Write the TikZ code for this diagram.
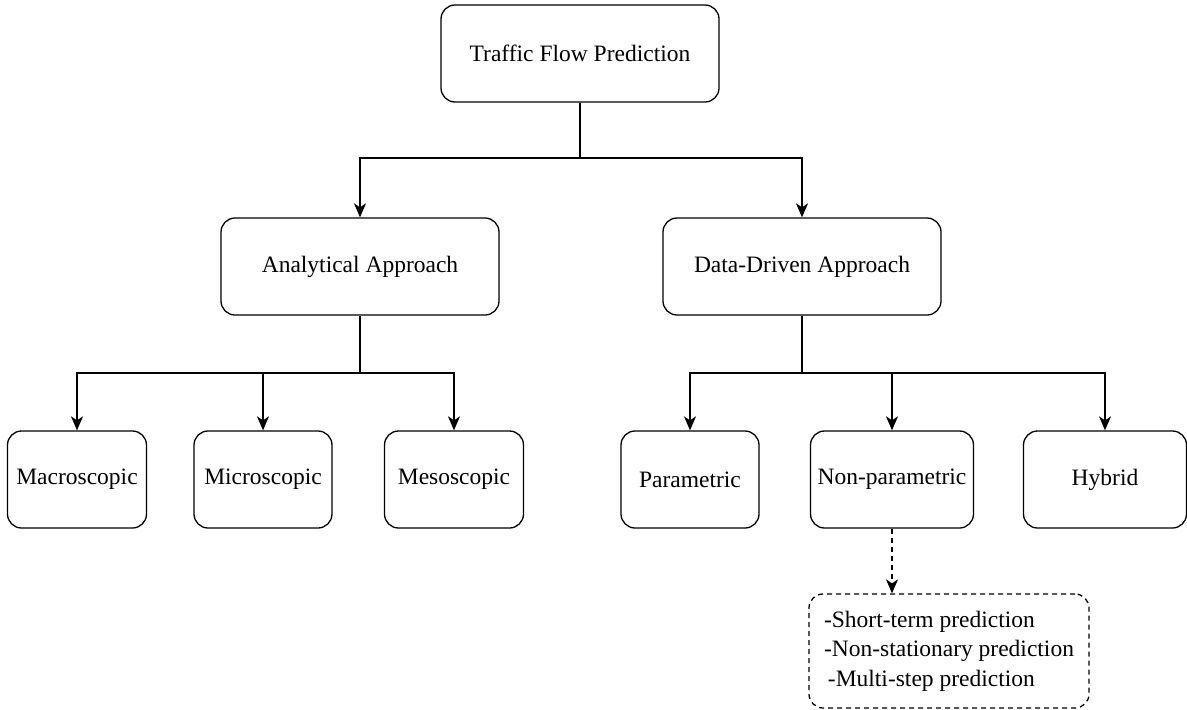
\documentclass[tikz,border=0pt]{standalone}
\usepackage{fontspec}
\setmainfont{Liberation Serif}
\usetikzlibrary{arrows.meta}
\begin{document}
\begin{tikzpicture}[x=1pt,y=-1pt,
  box/.style={draw, line width=1.3pt, rounded corners=14pt, align=center,
    inner sep=0pt, font=\fontsize{23.5}{28}\selectfont},
  link/.style={line width=1.4pt, -{Stealth[length=14pt,width=12pt,inset=4pt]}},
  bare/.style={line width=1.4pt},
  dash5/.style={dash pattern=on 5pt off 4pt}]
\useasboundingbox (0,0) rectangle (1187,710);
% top level
\node[box, minimum width=278pt, minimum height=97pt] (top) at (580,53.5) {Traffic Flow Prediction};
% second level
\node[box, minimum width=278pt, minimum height=97pt] (ana) at (360,266.5) {Analytical Approach};
\node[box, minimum width=278pt, minimum height=97pt] (dat) at (802,266.5) {Data-Driven Approach};
% third level
\node[box, minimum width=139pt, minimum height=97pt] (mac) at (77,479.5) {Macroscopic};
\node[box, minimum width=138pt, minimum height=97pt] (mic) at (263,479.5) {Microscopic};
\node[box, minimum width=139pt, minimum height=97pt] (mes) at (454,479.5) {Mesoscopic};
\node[box, minimum width=138pt, minimum height=97pt] (par) at (690,479.5) {Parametric};
\node[box, minimum width=163pt, minimum height=97pt] (non) at (892,479.5) {Non-parametric};
\node[box, minimum width=163pt, minimum height=97pt] (hyb) at (1105,479.5) {Hybrid};
% prediction horizons
\node[box, dash5, minimum width=280pt, minimum height=114pt, align=left,
  font=\fontsize{23.5}{29.5}\selectfont] (det) at (949,651)
  {-Short-term prediction\\-Non-stationary prediction\\\,-Multi-step prediction};
% junction points
\coordinate (j0) at (580,158);
\coordinate (j1) at (360,373);
\coordinate (j2) at (802,373);
% connectors
\draw[bare] (top.south) -- (j0);
\draw[link] (j0) -| (ana.north);
\draw[link] (j0) -| (dat.north);
\draw[bare] (ana.south) -- (j1);
\draw[link] (j1) -| (mac.north);
\draw[link] (j1) -| (mic.north);
\draw[link] (j1) -| (mes.north);
\draw[bare] (dat.south) -- (j2);
\draw[link] (j2) -| (par.north);
\draw[link] (j2) -| (non.north);
\draw[link] (j2) -| (hyb.north);
\draw[link, dash5] (non.south) -- (non.south |- det.north);
\end{tikzpicture}
\end{document}
